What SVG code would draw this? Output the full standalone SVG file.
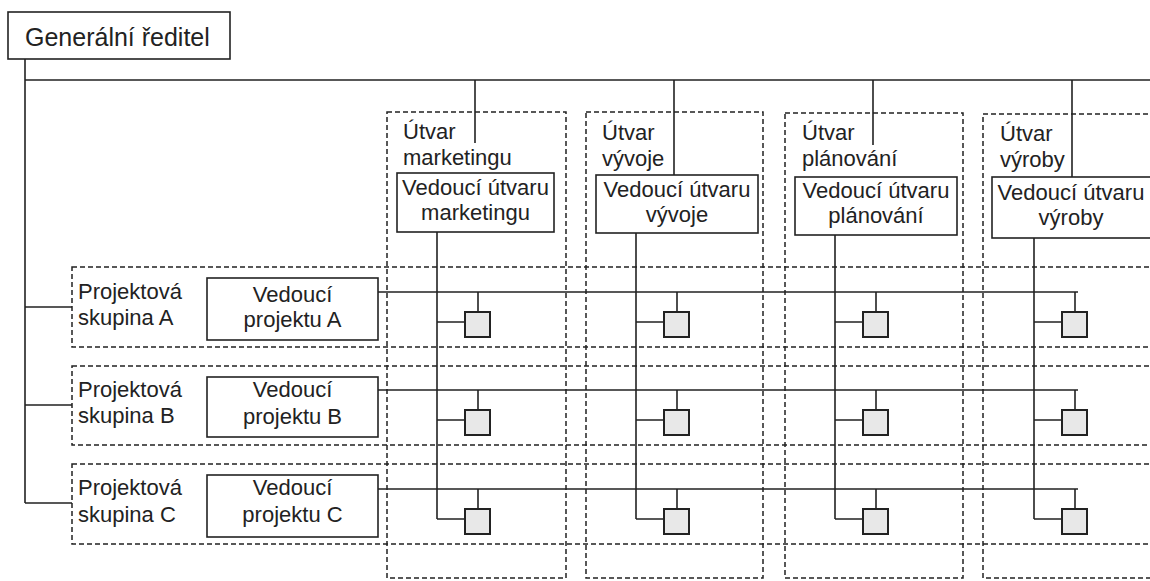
<svg xmlns="http://www.w3.org/2000/svg" width="1150" height="581" viewBox="0 0 1150 581">
<style>
text{font-family:"Liberation Sans",Arial,sans-serif;font-size:22px;fill:#222}
.c{text-anchor:middle}
.box{fill:#fff;stroke:#222;stroke-width:1.6}
.dash{fill:none;stroke:#222;stroke-width:1.5;stroke-dasharray:5 3}
.ln{fill:none;stroke:#222;stroke-width:1.6}
.sq{fill:#e8e8e8;stroke:#222;stroke-width:2}
</style>
<rect width="1150" height="581" fill="#fff"/>
<g id="departments">
<g id="dept-marketing"><rect class="dash" x="387" y="112" width="179" height="466"/><text x="403" y="139">Útvar</text><text x="403" y="165">marketingu</text></g>
<g id="dept-vyvoj"><rect class="dash" x="586" y="112" width="177" height="466"/><text x="602" y="140">Útvar</text><text x="602" y="166">vývoje</text></g>
<g id="dept-planovani"><rect class="dash" x="785" y="113" width="178" height="465"/><text x="802" y="140">Útvar</text><text x="802" y="166">plánování</text></g>
<g id="dept-vyroba"><rect class="dash" x="983" y="114" width="180" height="464"/><text x="1000" y="141">Útvar</text><text x="1000" y="167">výroby</text></g>
</g>
<g id="groups">
<g id="group-A"><rect class="dash" x="72" y="267" width="1090" height="80"/><text x="78" y="299">Projektová</text><text x="78" y="325">skupina A</text></g>
<g id="group-B"><rect class="dash" x="72" y="366" width="1090" height="79"/><text x="78" y="397">Projektová</text><text x="78" y="423">skupina B</text></g>
<g id="group-C"><rect class="dash" x="72" y="464" width="1090" height="80"/><text x="78" y="495">Projektová</text><text x="78" y="522">skupina C</text></g>
</g>
<g id="connectors">
<path class="ln" d="M25 59V503M25 80H1150M25 307H72M25 405H72M25 503H72"/>
<path class="ln" d="M475 80V143M674 80V175M873 80V145M1072 80V177"/>
<path class="ln" d="M437 232V519M636 233V519M835 235V519M1034 238V519"/>
<path class="ln" d="M378 292H1078M378 390H1078M378 489H1078"/>
<path class="ln" d="M478 292V312M677 292V312M876 292V312M1075 292V312"/>
<path class="ln" d="M478 390V410M677 390V410M876 390V410M1075 390V410"/>
<path class="ln" d="M478 489V509M677 489V509M876 489V509M1075 489V509"/>
<path class="ln" d="M437 322H465M636 322H664M835 322H863M1034 322H1062"/>
<path class="ln" d="M437 420H465M636 420H664M835 420H863M1034 420H1062"/>
<path class="ln" d="M437 519H465M636 519H664M835 519H863M1034 519H1062"/>
</g>
<g id="director"><rect class="box" x="8" y="12" width="222" height="47"/><text x="25" y="46" style="font-size:25px">Generální ředitel</text></g>
<g id="head-marketing"><rect class="box" x="397" y="173" width="157" height="59"/><text class="c" x="475.5" y="195">Vedoucí útvaru</text><text class="c" x="475.5" y="220">marketingu</text></g>
<g id="head-vyvoj"><rect class="box" x="596" y="175" width="162" height="58"/><text class="c" x="677" y="197">Vedoucí útvaru</text><text class="c" x="677" y="222">vývoje</text></g>
<g id="head-planovani"><rect class="box" x="795" y="177" width="162" height="58"/><text class="c" x="876" y="198">Vedoucí útvaru</text><text class="c" x="876" y="223">plánování</text></g>
<g id="head-vyroba"><rect class="box" x="992" y="177" width="162" height="61"/><text class="c" x="1071" y="200">Vedoucí útvaru</text><text class="c" x="1071" y="225">výroby</text></g>
<g id="pm-A"><rect class="box" x="207" y="278" width="171" height="62"/><text class="c" x="292.5" y="302">Vedoucí</text><text class="c" x="292.5" y="327">projektu A</text></g>
<g id="pm-B"><rect class="box" x="207" y="377" width="171" height="60"/><text class="c" x="292.5" y="397">Vedoucí</text><text class="c" x="292.5" y="424">projektu B</text></g>
<g id="pm-C"><rect class="box" x="207" y="475" width="171" height="62"/><text class="c" x="292.5" y="495">Vedoucí</text><text class="c" x="292.5" y="522">projektu C</text></g>
<g id="members">
<rect class="sq" x="465" y="312" width="25" height="25"/><rect class="sq" x="664" y="312" width="25" height="25"/><rect class="sq" x="863" y="312" width="25" height="25"/><rect class="sq" x="1062" y="312" width="25" height="25"/>
<rect class="sq" x="465" y="410" width="25" height="25"/><rect class="sq" x="664" y="410" width="25" height="25"/><rect class="sq" x="863" y="410" width="25" height="25"/><rect class="sq" x="1062" y="410" width="25" height="25"/>
<rect class="sq" x="465" y="509" width="25" height="25"/><rect class="sq" x="664" y="509" width="25" height="25"/><rect class="sq" x="863" y="509" width="25" height="25"/><rect class="sq" x="1062" y="509" width="25" height="25"/>
</g>
</svg>
